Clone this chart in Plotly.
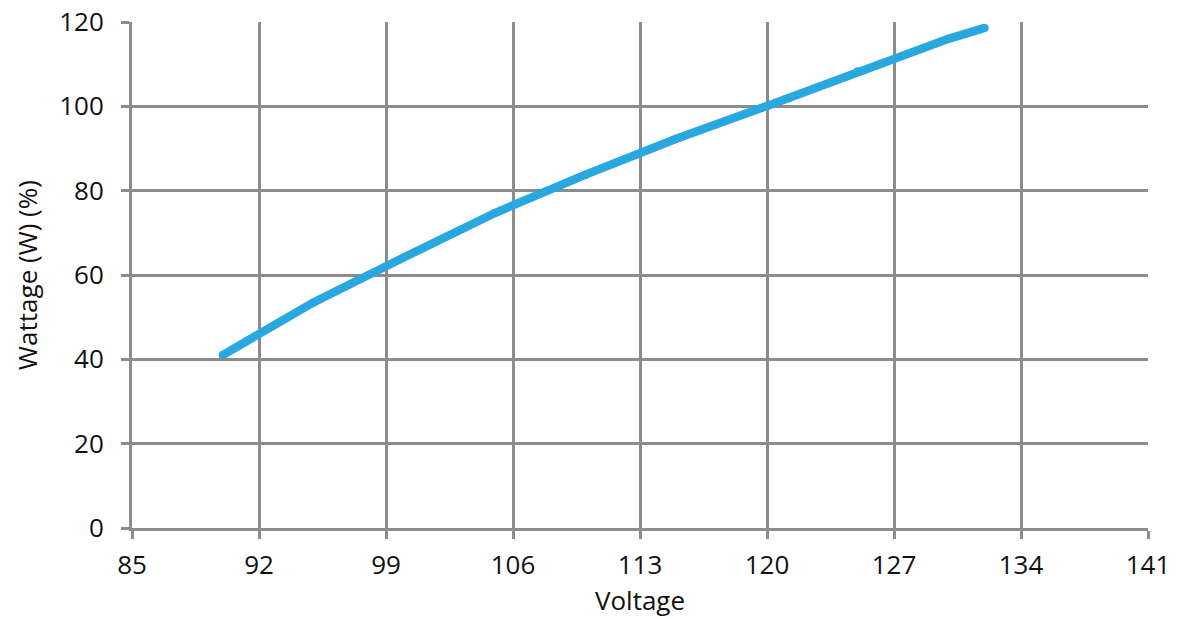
import plotly.graph_objects as go

voltage = [90, 95, 100, 105, 110, 115, 120, 125, 130, 132]
wattage = [41.0, 53.5, 64.2, 74.7, 83.8, 92.3, 100.1, 108.3, 116.0, 118.6]
x_ticks = [85, 92, 99, 106, 113, 120, 127, 134, 141]
y_ticks = [0, 20, 40, 60, 80, 100, 120]

GRID = "#8c8c8a"
LINE = "#29a8e0"
FONT = "Open Sans, Liberation Sans, sans-serif"

fig = go.Figure()
fig.add_trace(go.Scatter(
    x=voltage, y=wattage, mode="lines+markers",
    line=dict(color=LINE, width=8.5),
    marker=dict(color=LINE, size=8, line=dict(width=0)),
    hoverinfo="x+y", showlegend=False,
))

axis_common = dict(
    showgrid=True, gridcolor=GRID, gridwidth=3,
    showline=True, linecolor=GRID, linewidth=3,
    ticks="outside", ticklen=8, tickwidth=3, tickcolor=GRID,
    zeroline=False, automargin=False,
    tickfont=dict(family=FONT, size=26, color="#111"),
)

fig.update_layout(
    width=1181, height=619,
    margin=dict(l=132, r=33, t=22, b=91),
    paper_bgcolor="white", plot_bgcolor="white",
    font=dict(family=FONT, color="#111"),
    xaxis=dict(range=[85, 141], tickvals=x_ticks, ticktext=[str(v) for v in x_ticks],
               ticklabelstandoff=4,
               title=dict(text="Voltage", font=dict(family=FONT, size=26), standoff=5),
               **axis_common),
    yaxis=dict(range=[0, 120], tickvals=y_ticks, ticktext=[str(v) for v in y_ticks],
               ticklabelstandoff=12,
               title=dict(text="Wattage (W) (%)", font=dict(family=FONT, size=26), standoff=15),
               **axis_common),
)

fig.write_html("out.html", config={"displayModeBar": False})

with open("out.html", "r", encoding="utf-8") as f:
    html = f.read()
html = html.replace("<head>", "<head><style>html,body{margin:0;padding:0;overflow:hidden;}</style>", 1)
with open("out.html", "w", encoding="utf-8") as f:
    f.write(html)
